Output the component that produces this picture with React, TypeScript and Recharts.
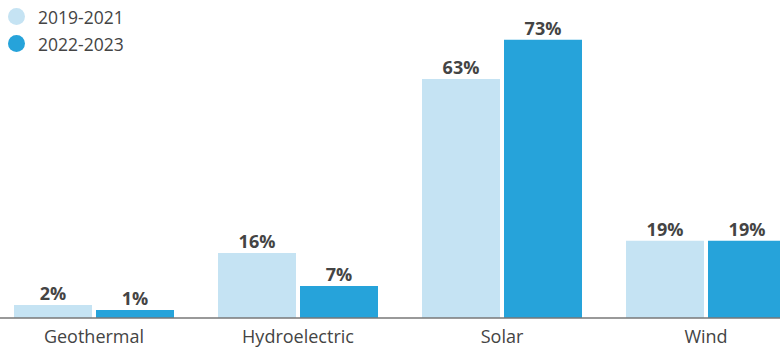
import React from "react";
import { BarChart, Bar, XAxis, YAxis, LabelList } from "recharts";

const categories = ["Geothermal", "Hydroelectric", "Solar", "Wind"];
const seriesNames = ["2019-2021", "2022-2023"];
// values
const valuesA = [3.4, 17.1, 62.9, 20.3];
const valuesB = [2.1, 8.4, 73.2, 20.3];
// printed labels
const labelsA = ["2%", "16%", "63%", "19%"];
const labelsB = ["1%", "7%", "73%", "19%"];

const colors = ["#c5e3f3", "#26a3da"];
const FONT = "'Open Sans', sans-serif";

const data = categories.map((c, i) => ({
  name: c,
  a: valuesA[i],
  b: valuesB[i],
  la: labelsA[i],
  lb: labelsB[i],
}));

const Tick = (props: any) => {
  const { x, y, payload } = props;
  return (
    <text x={x} y={y + 25} textAnchor="middle" fill="#444" fontFamily={FONT} fontSize={18}>
      {payload.value}
    </text>
  );
};

export default function App() {
  return (
    <div style={{ position: "absolute", left: 0, top: 0, width: 780, height: 348, overflow: "hidden", background: "#fff" }}>
      <div style={{ position: "absolute", left: -8, top: 0 }}>
        <BarChart width={816} height={348} data={data} margin={{ top: 14, right: 0, bottom: 0, left: 0 }} barCategoryGap={22} barGap={4}>
          <XAxis dataKey="name" height={30} tickLine={false} tickSize={0} tickMargin={0} axisLine={{ stroke: "#777", strokeWidth: 1.5 }} tick={<Tick />} interval={0} />
          <YAxis hide domain={[0, 80]} width={0} />
          <Bar dataKey="a" fill={colors[0]} isAnimationActive={false}>
            <LabelList dataKey="la" position="top" offset={5} fill="#444" fontFamily={FONT} fontSize={18} fontWeight={700} />
          </Bar>
          <Bar dataKey="b" fill={colors[1]} isAnimationActive={false}>
            <LabelList dataKey="lb" position="top" offset={5} fill="#444" fontFamily={FONT} fontSize={18} fontWeight={700} />
          </Bar>
        </BarChart>
      </div>
      <div style={{ position: "absolute", left: 8, top: 3 }}>
        {seriesNames.map((n, i) => (
          <div key={n} style={{ display: "flex", alignItems: "center", height: 27, fontFamily: FONT, fontSize: 17.5, color: "#444", whiteSpace: "nowrap" }}>
            <span style={{ display: "inline-block", width: 17, height: 17, borderRadius: 9, background: colors[i], marginRight: 13 }} />
            <span>{n}</span>
          </div>
        ))}
      </div>
    </div>
  );
}
